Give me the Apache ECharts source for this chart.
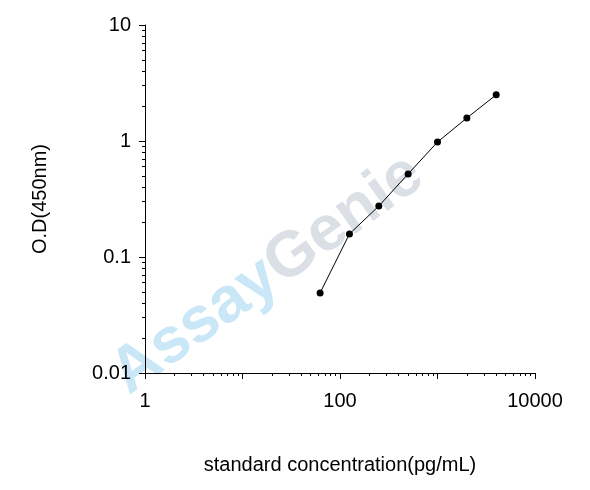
<!DOCTYPE html>
<html><head><meta charset="utf-8">
<script src="https://cdn.jsdelivr.net/npm/echarts@6/dist/echarts.min.js"></script>
<style>html,body{margin:0;background:#fff}#c{width:590px;height:490px}</style>
</head><body><div id="c"></div>
<script>
const concentrations = [62.5, 125, 250, 500, 1000, 2000, 4000];
const odValues = [0.049, 0.158, 0.275, 0.52, 0.98, 1.58, 2.5];
const xTickLabels = ['1', '100', '10000'];
const chart = echarts.init(document.getElementById('c'));
const axisCommon = {
  type: 'log', logBase: 10,
  axisLine: {show: true, lineStyle: {color: '#000'}},
  axisTick: {show: true, length: 6, lineStyle: {color: '#000'}},
  minorTick: {show: true, splitNumber: 9, length: 3, lineStyle: {color: '#000'}},
  splitLine: {show: false},
  axisLabel: {color: '#000', fontSize: 20, fontFamily: 'Liberation Sans, Arial'},
  nameTextStyle: {color: '#000', fontSize: 20, fontFamily: 'Liberation Sans, Arial'}
};
chart.setOption({
  animation: false,
  grid: {left: 145, right: 55, top: 25, bottom: 117},
  xAxis: Object.assign({}, axisCommon, {min: 1, max: 10000, name: 'standard concentration(pg/mL)', nameLocation: 'middle', nameGap: 82,
    axisLabel: Object.assign({}, axisCommon.axisLabel, {margin: 18,
      formatter: v => { const s = String(Math.round(v)); return xTickLabels.includes(s) ? s : ''; }})}),
  yAxis: Object.assign({}, axisCommon, {min: 0.01, max: 10, name: 'O.D(450nm)', nameLocation: 'middle', nameGap: 95,
    axisLabel: Object.assign({}, axisCommon.axisLabel, {margin: 14, formatter: v => String(+v.toPrecision(2))})}),
  graphic: [{type: 'text', z: 0, x: 100, y: 355, rotation: 0.62,
    style: {text: '{a|Assay}{g|Genie}', fontSize: 64, fontWeight: 'bold', fontFamily: 'Liberation Sans, Arial',
      rich: {a: {fontSize: 64, fontWeight: 'bold', fill: 'rgba(120,195,235,0.4)'}, g: {fontSize: 64, fontWeight: 'bold', fill: 'rgba(150,165,180,0.35)'}}}}],
  series: [{type: 'line', data: concentrations.map((c, i) => [c, odValues[i]]),
    symbol: 'circle', symbolSize: 7, itemStyle: {color: '#000'}, lineStyle: {color: '#000', width: 1}, z: 5}]
});
</script></body></html>
